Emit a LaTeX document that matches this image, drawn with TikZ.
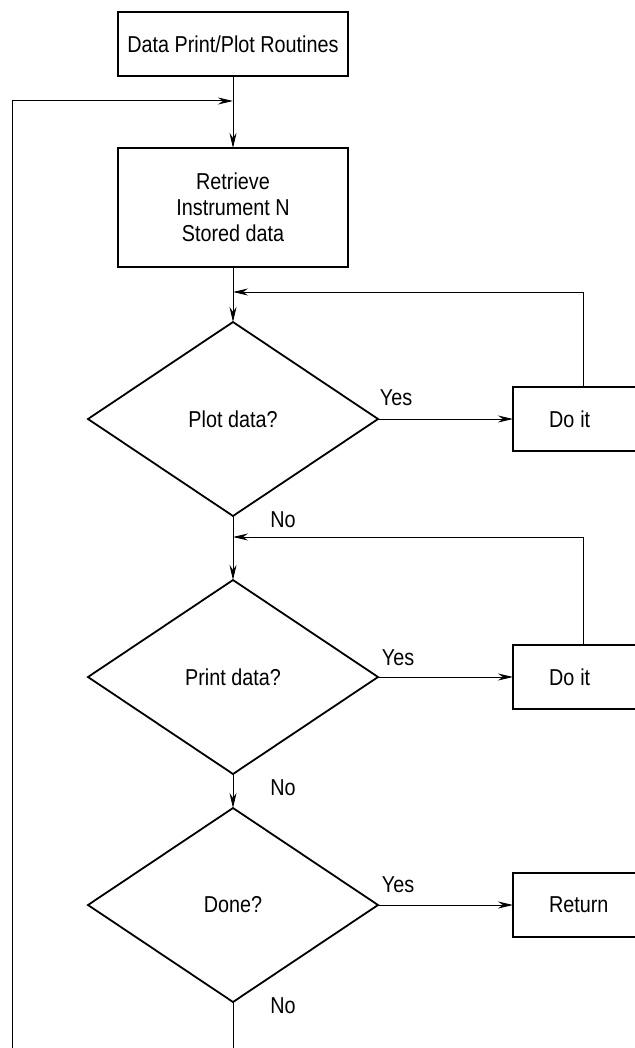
\documentclass[tikz,border=0pt]{standalone}
\usepackage{fontspec}
\setmainfont{Liberation Sans}[FakeStretch=0.86]
\usetikzlibrary{shapes.geometric,arrows.meta}
\tikzset{
	box/.style={draw,line width=0.9pt,minimum width=115pt,inner sep=0pt,outer sep=0pt,align=center},
	decision/.style={draw,diamond,line width=0.9pt,minimum width=145pt,minimum height=97pt,inner sep=0pt,outer sep=0pt},
	sidebox/.style={draw,line width=0.9pt,anchor=west,minimum width=70pt,minimum height=32pt,text width=34pt,align=left,inner xsep=18pt,inner ysep=0pt,outer sep=0pt},
	arr/.style={-{Stealth[length=7.5pt,width=3.5pt]},line width=0.5pt},
	lbl/.style={inner sep=0pt}
}
\begin{document}
\begin{tikzpicture}[x=0.5pt,y=-0.5pt,font=\fontsize{11.5}{13}\selectfont]
	\useasboundingbox (0,0) rectangle (635,1048);
	\clip (0,0) rectangle (635,1048);

	\node[box,minimum height=32pt] (start) at (233,44) {Data Print/Plot Routines};
	\node[box,minimum height=59.5pt] (fetch) at (233,207.5) {Retrieve\\Instrument N\\Stored data};

	\node[decision] (plot) at (233,419) {Plot data?};
	\node[decision] (print) at (233,677) {Print data?};
	\node[decision] (done) at (233,905) {Done?};

	\node[sidebox] (doplot) at (513,419) {Do\kern-0.8pt\ it};
	\node[sidebox] (doprint) at (513,677) {Do\kern-0.8pt\ it};
	\node[sidebox] (ret) at (513,905) {Return};

	\coordinate (entry) at (233,101);
	\coordinate (join1) at (233,292);
	\coordinate (join2) at (233,537);
	\coordinate (corner) at (12,1070);

	\draw[arr] (start) -- (fetch);
	\draw[arr] (fetch) -- (plot);
	\draw[arr] (plot) -- (print);
	\draw[arr] (print) -- (done);

	\draw[arr] (plot) -- (doplot);
	\draw[arr] (print) -- (doprint);
	\draw[arr] (done) -- (ret);

	\draw[arr] (doplot.north) |- (join1);
	\draw[arr] (doprint.north) |- (join2);
	\draw[arr] (done.south) |- (corner) |- (entry);

	\node[lbl] (yes1) at ([shift={(18,-21)}]plot.east) {Yes};
	\node[lbl] (yes2) at ([shift={(20,-19)}]print.east) {Yes};
	\node[lbl] (yes3) at ([shift={(20,-20)}]done.east) {Yes};
	\node[lbl] (no1) at (283,520) {No};
	\node[lbl] (no2) at (283,788) {No};
	\node[lbl] (no3) at (283,1006) {No};
\end{tikzpicture}
\end{document}
